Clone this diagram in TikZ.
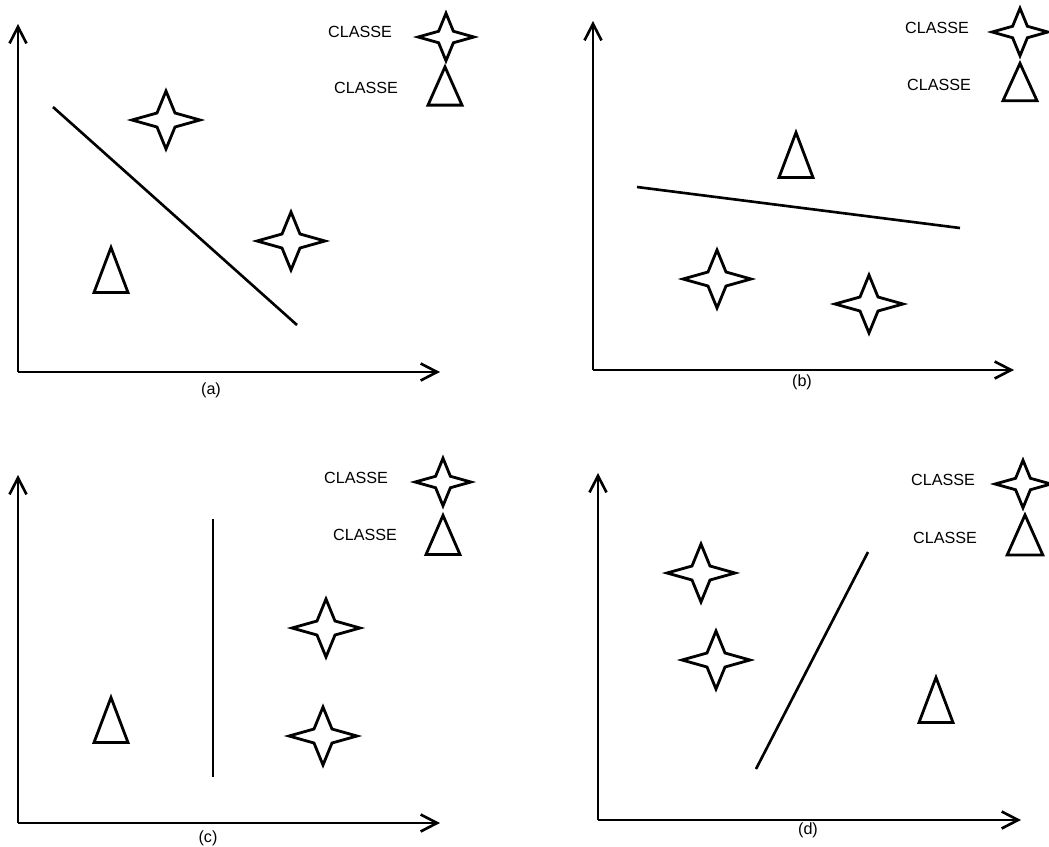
\documentclass[tikz,border=0pt]{standalone}
\usepackage{fontspec}
\setmainfont{Liberation Sans}
\usepackage{tikz}
\usetikzlibrary{arrows.meta,positioning}

\begin{document}
\begin{tikzpicture}[
    x=0.02cm,y=-0.02cm,
    every node/.style={font=\fontsize{9.2}{11}\selectfont,inner sep=0pt},
    axe/.style={line width=1.5pt,-{Straight Barb[length=3.3mm,width=3.4mm,line width=1.5pt]}},
    frontiere/.style={line width=1.5pt},
    forme/.style={line width=1.6pt,line join=miter},
    etoile/.pic={\draw[forme] (-34,0) -- (-9,-7) -- (0,-29) -- (9,-7) -- (34,0)
                   -- (9,7) -- (0,29) -- (-9,7) -- cycle;},
    triangle/.pic={\draw[forme] (0,-22.5) -- (17,22.5) -- (-17,22.5) -- cycle;},
    petite/.style={scale=0.82},
  ]
  \useasboundingbox (0,0) rectangle (1049,846);

  % (a)
  \coordinate (Oa) at (18,372);
  \coordinate (Ya) at (18,24);
  \coordinate (Xa) at (440,372);
  \draw[axe] (Oa) -- (Ya);
  \draw[axe] (Oa) -- (Xa);
  \node (la) at (211,390) {(a)};
  \coordinate (Fa1) at (53,107);
  \coordinate (Fa2) at (297,325);
  \draw[frontiere] (Fa1) -- (Fa2);
  \pic at (166,120) {etoile};
  \pic at (291,241) {etoile};
  \pic at (111,270) {triangle};
  \node (ca1) at (360,32) {CLASSE};
  \node (ca2) at (366,88) {CLASSE};
  \pic[petite] at (446,37) {etoile};
  \pic[xscale=1,yscale=0.85] at (445,86) {triangle};

  % (b)
  \coordinate (Ob) at (593,370);
  \coordinate (Yb) at (593,21);
  \coordinate (Xb) at (1014,370);
  \draw[axe] (Ob) -- (Yb);
  \draw[axe] (Ob) -- (Xb);
  \node (lb) at (802,382) {(b)};
  \coordinate (Fb1) at (637,187);
  \coordinate (Fb2) at (960,228);
  \draw[frontiere] (Fb1) -- (Fb2);
  \pic at (717,279) {etoile};
  \pic at (869,304) {etoile};
  \pic at (796,155) {triangle};
  \node (cb1) at (937,28) {CLASSE};
  \node (cb2) at (939,85) {CLASSE};
  \pic[petite] at (1020,32) {etoile};
  \pic[xscale=1,yscale=0.83] at (1020,82) {triangle};

  % (c)
  \coordinate (Oc) at (18,823);
  \coordinate (Yc) at (18,475);
  \coordinate (Xc) at (440,823);
  \draw[axe] (Oc) -- (Yc);
  \draw[axe] (Oc) -- (Xc);
  \node (lc) at (208,838) {(c)};
  \coordinate (Fc1) at (213,519);
  \coordinate (Fc2) at (213,777);
  \draw[frontiere] (Fc1) -- (Fc2);
  \pic at (326,628) {etoile};
  \pic at (323,736) {etoile};
  \pic at (111,720) {triangle};
  \node (cc1) at (356,478) {CLASSE};
  \node (cc2) at (365,535) {CLASSE};
  \pic[petite] at (443,482) {etoile};
  \pic[xscale=1,yscale=0.87] at (443,535) {triangle};

  % (d)
  \coordinate (Od) at (598,820);
  \coordinate (Yd) at (598,473);
  \coordinate (Xd) at (1021,820);
  \draw[axe] (Od) -- (Yd);
  \draw[axe] (Od) -- (Xd);
  \node (ld) at (808,830) {(d)};
  \coordinate (Fd1) at (756,769);
  \coordinate (Fd2) at (868,552);
  \draw[frontiere] (Fd1) -- (Fd2);
  \pic at (701,573) {etoile};
  \pic at (716,660) {etoile};
  \pic at (936,700) {triangle};
  \node (cd1) at (943,480) {CLASSE};
  \node (cd2) at (945,538) {CLASSE};
  \pic[petite] at (1023,484) {etoile};
  \pic[xscale=1.05,yscale=0.89] at (1025,535) {triangle};
\end{tikzpicture}
\end{document}
